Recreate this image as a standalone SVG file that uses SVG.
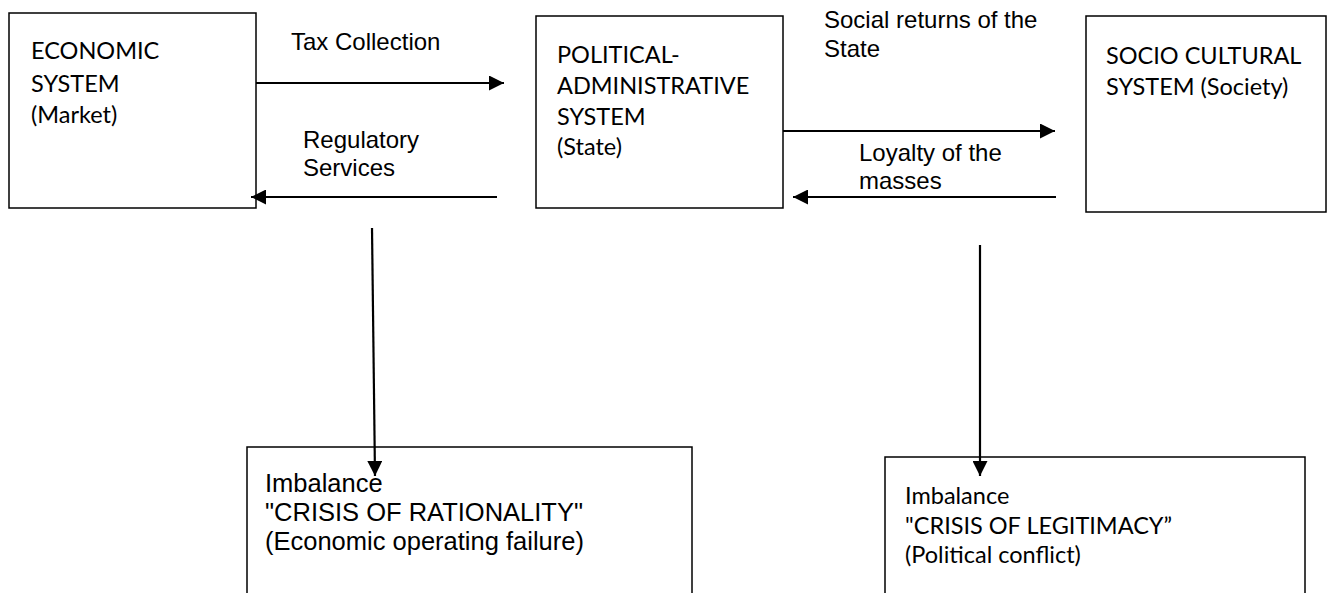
<svg xmlns="http://www.w3.org/2000/svg" width="1333" height="593" viewBox="0 0 1333 593">
<style>
.box{fill:#fff;stroke:#000;stroke-width:1.5}
.cal{font-family:Lato,"Open Sans","DejaVu Sans",sans-serif;font-size:23.5px;fill:#000}
.ari{font-family:"Liberation Sans",Arial,sans-serif;font-size:24px;fill:#000}
.ari2{font-family:"Liberation Sans",Arial,sans-serif;font-size:25.5px;fill:#000}
.con{stroke:#000;stroke-width:2.2;fill:none}
</style>
<defs>
<marker id="ah" viewBox="0 0 15 15" refX="15" refY="7.5" markerWidth="15" markerHeight="15" markerUnits="userSpaceOnUse" orient="auto">
<path d="M0,0 L15,7.5 L0,15 Z" fill="#000"/>
</marker>
</defs>
<rect width="1333" height="593" fill="#fff"/>
<g id="economic">
<rect class="box" x="9" y="13" width="247" height="195"/>
<text class="cal" x="31" y="59">ECONOMIC</text>
<text class="cal" x="31" y="92">SYSTEM</text>
<text class="cal" x="31" y="123">(Market)</text>
</g>
<g id="political">
<rect class="box" x="536" y="16" width="247" height="192"/>
<text class="cal" x="557" y="63">POLITICAL-</text>
<text class="cal" x="557" y="94">ADMINISTRATIVE</text>
<text class="cal" x="557" y="125">SYSTEM</text>
<text class="cal" x="557" y="155">(State)</text>
</g>
<g id="sociocultural">
<rect class="box" x="1086" y="16" width="240" height="196"/>
<text class="cal" x="1106" y="64">SOCIO CULTURAL</text>
<text class="cal" x="1106" y="95">SYSTEM (Society)</text>
</g>
<g id="rationality">
<rect class="box" x="247" y="447" width="445" height="160"/>
<text class="ari2" x="265" y="492">Imbalance</text>
<text class="ari2" x="265" y="521">"CRISIS OF RATIONALITY"</text>
<text class="ari2" x="265" y="550">(Economic operating failure)</text>
</g>
<g id="legitimacy">
<rect class="box" x="885" y="457" width="420" height="150"/>
<text class="cal" x="905" y="504">Imbalance</text>
<text class="cal" x="905" y="534">"CRISIS OF LEGITIMACY”</text>
<text class="cal" x="905" y="563">(Political conflict)</text>
</g>
<g id="connectors">
<line class="con" x1="256" y1="83" x2="504" y2="83" marker-end="url(#ah)"/>
<line class="con" x1="497" y1="197" x2="251" y2="197" marker-end="url(#ah)"/>
<line class="con" x1="783" y1="131" x2="1055" y2="131" marker-end="url(#ah)"/>
<line class="con" x1="1056" y1="197" x2="793" y2="197" marker-end="url(#ah)"/>
<line class="con" x1="372" y1="228" x2="375" y2="476" marker-end="url(#ah)"/>
<line class="con" x1="980" y1="245" x2="980" y2="476" marker-end="url(#ah)"/>
<text class="ari" x="291" y="50">Tax Collection</text>
<text class="ari" x="303" y="148">Regulatory</text>
<text class="ari" x="303" y="176">Services</text>
<text class="ari" x="824" y="28">Social returns of the</text>
<text class="ari" x="824" y="57">State</text>
<text class="ari" x="859" y="161">Loyalty of the</text>
<text class="ari" x="859" y="189">masses</text>
</g>
</svg>
